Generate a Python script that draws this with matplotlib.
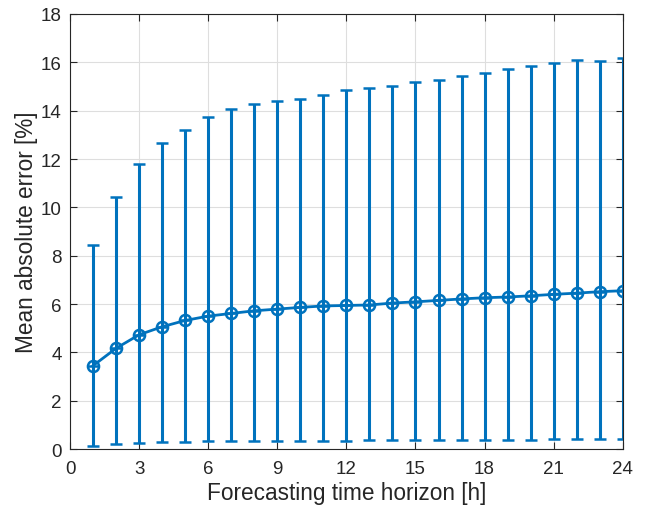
import numpy as np
import matplotlib.pyplot as plt

plt.rcParams['font.family'] = ['Liberation Sans', 'DejaVu Sans']

horizon = np.arange(1, 25)
mae = [3.45, 4.17, 4.73, 5.06, 5.32, 5.50, 5.61, 5.72, 5.79, 5.86, 5.92, 5.94,
       5.96, 6.04, 6.09, 6.15, 6.21, 6.26, 6.29, 6.34, 6.40, 6.45, 6.51, 6.55]
upper = [8.44, 10.43, 11.78, 12.65, 13.20, 13.74, 14.08, 14.29, 14.42, 14.48, 14.66, 14.84,
         14.92, 15.00, 15.20, 15.28, 15.42, 15.57, 15.71, 15.85, 15.96, 16.08, 16.07, 16.16]
lower = [0.14, 0.21, 0.25, 0.28, 0.29, 0.32, 0.33, 0.34, 0.35, 0.35, 0.35, 0.35,
         0.36, 0.36, 0.37, 0.37, 0.38, 0.38, 0.39, 0.39, 0.40, 0.40, 0.41, 0.41]

mae = np.array(mae)
err = [mae - np.array(lower), np.array(upper) - mae]
col = '#0072BD'

fig = plt.figure(figsize=(6.49, 5.10), dpi=100)
ax = fig.add_axes([0.108, 0.1176, 0.8515, 0.853])

ax.errorbar(horizon, mae, yerr=err, color=col, lw=2, elinewidth=2.2,
            capsize=4, capthick=2, marker='o', ms=8, mfc='none', mew=1.8)
ax.plot(horizon, mae, '+', color=col, ms=8, mew=1.8)

ax.set_xlim(0, 24)
ax.set_ylim(0, 18)
ax.set_xticks(np.arange(0, 25, 3))
ax.set_yticks(np.arange(0, 19, 2))
ax.grid(True, color='#dedede', lw=0.8)
ax.set_axisbelow(True)
ax.tick_params(direction='in', top=True, right=True, labelsize=13.5,
               colors='#262626', length=5, width=0.8)
ax.tick_params(axis='x', pad=8)
ax.tick_params(axis='y', pad=6)
for s in ax.spines.values():
    s.set_color('#262626')
    s.set_linewidth(0.8)
ax.set_xlabel('Forecasting time horizon [h]', fontsize=16.3, color='#262626', labelpad=3)
ax.set_ylabel('Mean absolute error [%]', fontsize=16.3, color='#262626', labelpad=2)

fig.savefig('out.png', dpi=100)
